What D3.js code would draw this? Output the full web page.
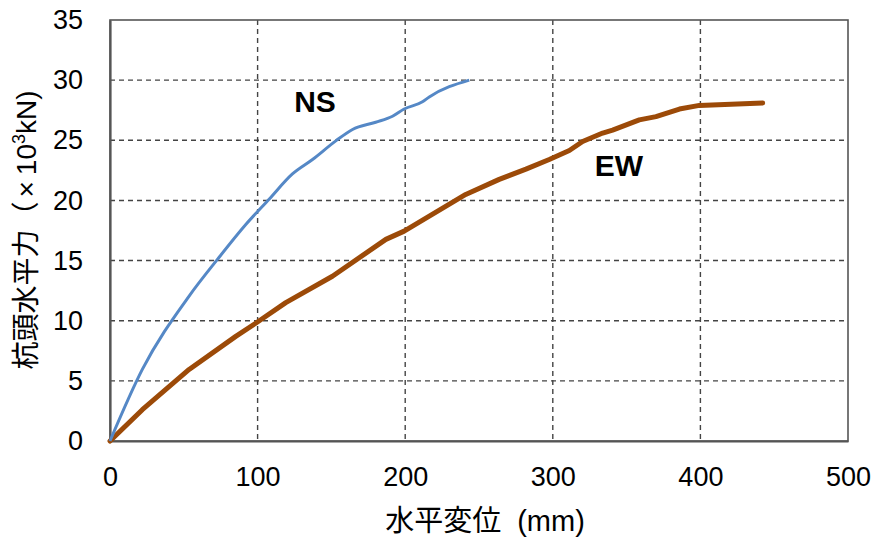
<!DOCTYPE html>
<html><head><meta charset="utf-8">
<script src="https://cdn.jsdelivr.net/npm/d3@7"></script>
<style>body{margin:0;background:#fff}svg{display:block}</style>
</head><body><svg id="c" width="876" height="540"></svg>
<script>
const nsX = [0, 21.9, 53.6, 72.8, 92, 107.8, 123.6, 137.2, 153, 164.3, 180, 191.4, 199.3, 211.7, 216.3, 243.4];
const nsY = [0, 5.95, 12.05, 15.1, 18.0, 20.1, 22.2, 23.4, 24.95, 25.9, 26.5, 27.0, 27.6, 28.2, 28.6, 30.0];
const ewX = [0, 21.9, 53.6, 85.2, 99.2, 119.1, 150.7, 186.9, 199.3, 241, 263.7, 281.8, 297.6, 311.2, 320.2, 333.8, 340.5, 358.6, 369.9, 385.8, 399.3, 442.2];
const ewY = [0, 2.6, 5.95, 8.7, 9.83, 11.5, 13.7, 16.76, 17.45, 20.5, 21.75, 22.6, 23.4, 24.15, 24.9, 25.6, 25.85, 26.7, 26.97, 27.6, 27.9, 28.1];
const xTicks = [0, 100, 200, 300, 400, 500];
const yTicks = [0, 5, 10, 15, 20, 25, 30, 35];

const svg = d3.select("#c");
const L = 110, R = 848, T = 20, B = 441;
const x = d3.scaleLinear().domain([0, 500]).range([L, R]);
const y = d3.scaleLinear().domain([0, 35]).range([B, T]);
const font = "'Liberation Sans', Arial, sans-serif";
const cjk = "'Noto Sans CJK JP', 'Liberation Sans', sans-serif";

// grid
svg.append("g").selectAll("line").data(xTicks.slice(1, -1)).join("line")
  .attr("x1", d => x(d)).attr("x2", d => x(d)).attr("y1", T).attr("y2", B)
  .attr("stroke", "#444").attr("stroke-width", 1.4).attr("stroke-dasharray", "5,4");
svg.append("g").selectAll("line").data(yTicks.slice(1, -1)).join("line")
  .attr("y1", d => y(d)).attr("y2", d => y(d)).attr("x1", L).attr("x2", R)
  .attr("stroke", "#444").attr("stroke-width", 1.4).attr("stroke-dasharray", "5,4");

// frame
svg.append("rect").attr("x", L).attr("y", T).attr("width", R - L).attr("height", B - T)
  .attr("fill", "none").attr("stroke", "#555").attr("stroke-width", 1.6);

// axes
const xa = svg.append("g").attr("transform", `translate(0,${B})`)
  .call(d3.axisBottom(x).tickValues(xTicks).tickSize(0).tickPadding(26));
xa.select(".domain").attr("stroke", "#555").attr("stroke-width", 2.2);
xa.selectAll("text").attr("font-family", font).attr("font-size", 27).attr("fill", "#000");
const ya = svg.append("g").attr("transform", `translate(${L},0)`)
  .call(d3.axisLeft(y).tickValues(yTicks).tickSize(0).tickPadding(27));
ya.select(".domain").attr("stroke", "#555").attr("stroke-width", 2.2);
ya.selectAll("text").attr("font-family", font).attr("font-size", 27).attr("fill", "#000");

// lines
const ewLine = d3.line().x(d => x(d[0])).y(d => y(d[1]));
const nsLine = d3.line().curve(d3.curveMonotoneX).x(d => x(d[0])).y(d => y(d[1]));
svg.append("path").datum(d3.zip(ewX, ewY)).attr("d", ewLine)
  .attr("fill", "none").attr("stroke", "#9c4a08").attr("stroke-width", 5)
  .attr("stroke-linejoin", "round").attr("stroke-linecap", "round");
svg.append("path").datum(d3.zip(nsX, nsY)).attr("d", nsLine)
  .attr("fill", "none").attr("stroke", "#5588c6").attr("stroke-width", 3)
  .attr("stroke-linejoin", "round");

// labels
svg.append("text").attr("x", 315).attr("y", 112).attr("text-anchor", "middle")
  .attr("font-family", font).attr("font-weight", "bold").attr("font-size", 30).text("NS");
svg.append("text").attr("x", 619).attr("y", 176).attr("text-anchor", "middle")
  .attr("font-family", font).attr("font-weight", "bold").attr("font-size", 30).text("EW");

// axis titles
const xt = svg.append("text").attr("x", 485).attr("y", 531).attr("text-anchor", "middle")
  .attr("font-family", cjk).attr("font-size", 29);
xt.append("tspan").text("水平変位");
xt.append("tspan").attr("dx", 16).attr("font-family", font).text("(mm)");
const yt = svg.append("text").attr("transform", "translate(36,230) rotate(-90)")
  .attr("text-anchor", "middle").attr("font-family", cjk).attr("font-size", 28);
yt.append("tspan").text("杭頭水平力（");
yt.append("tspan").attr("font-family", font).attr("dx", 4).text("×");
yt.append("tspan").attr("font-family", font).attr("dx", 6).text("10");
yt.append("tspan").attr("font-family", font).attr("font-size", 18).attr("dy", -11).text("3");
yt.append("tspan").attr("font-family", font).attr("dy", 11).text("kN)");
</script></body></html>
